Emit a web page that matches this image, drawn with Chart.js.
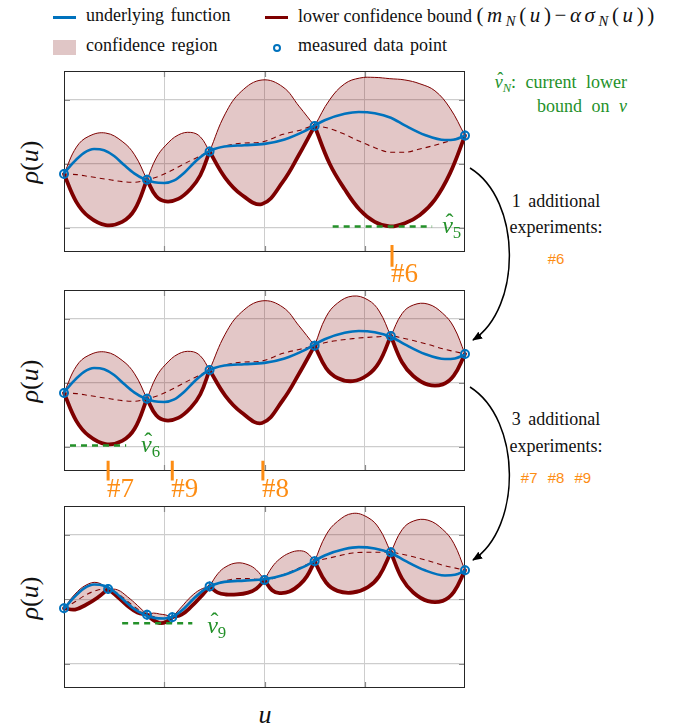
<!DOCTYPE html>
<html>
<head>
<meta charset="utf-8">
<script src="https://cdn.jsdelivr.net/npm/chart.js@4.4.1/dist/chart.umd.min.js"></script>
<style>
  html, body { margin: 0; padding: 0; background: #fff; }
  #page { position: relative; width: 677px; height: 725px; overflow: hidden;
          font-family: "Liberation Serif", "DejaVu Serif", "Times New Roman", Times, serif; color: #111; }
  canvas.panel { position: absolute; left: 0; top: 0; }
  .txt { position: absolute; white-space: nowrap; font-size: 18px; line-height: 18px; }
  .sb { font-size: 0.7em; position: relative; top: 0.3em; }
  .math { font-size: 21px; letter-spacing: 3.6px; }
  .hv { position: relative; display: inline-block; }
  .hat { position: absolute; left: 0.14em; top: -0.14em; font-style: normal; }
  .green { color: #24912a; }
  .orange { color: #fd8d14; }
  .big { font-size: 27px; line-height: 27px; }
  .nu { font-size: 24px; line-height: 24px; }
  .ylab { position: absolute; font-size: 26px; line-height: 26px; white-space: nowrap;
          transform: translate(-50%, -50%) rotate(-90deg); }
  .sans { font-family: "Liberation Sans", "DejaVu Sans", Arial, sans-serif; font-size: 15px; }
  .icon { position: absolute; }
  svg { position: absolute; left: 0; top: 0; }
</style>
</head>
<body>
<div id="page">
  <!-- legend -->
  <div class="icon" style="left:53px;top:16px;width:23px;height:2.5px;background:#0072bd"></div>
  <div class="txt" style="left:86px;top:6px;word-spacing:2px">underlying function</div>
  <div class="icon" style="left:265px;top:16px;width:23px;height:2.5px;background:#7e0000"></div>
  <div class="txt" style="left:298px;top:6px">lower confidence bound <span class="math">(<i>m</i><span class="sb"><i>N</i></span>(<i>u</i>)&minus;<i>ασ</i><span class="sb"><i>N</i></span>(<i>u</i>))</span></div>
  <div class="icon" style="left:53px;top:40px;width:23px;height:15px;background:#e0c6c6"></div>
  <div class="txt" style="left:86px;top:36px;word-spacing:2px">confidence region</div>
  <div class="icon" style="left:273px;top:44px;width:8px;height:8px;border:2px solid #0072bd;border-radius:50%;box-sizing:border-box"></div>
  <div class="txt" style="left:298px;top:36px;word-spacing:2px">measured data point</div>

  <!-- right side notes -->
  <div class="txt green" style="right:50px;top:73px;word-spacing:5px"><span class="hv"><i>ν</i><span class="hat">ˆ</span></span><span class="sb"><i>N</i></span>: current lower</div>
  <div class="txt green" style="right:50px;top:97px;word-spacing:5px">bound on <i>ν</i></div>
  <div class="txt" style="left:556px;top:192px;transform:translateX(-50%);word-spacing:3px">1 additional</div>
  <div class="txt" style="left:556px;top:218px;transform:translateX(-50%)">experiments:</div>
  <div class="txt orange sans" style="left:556px;top:250px;transform:translateX(-50%)">#6</div>
  <div class="txt" style="left:556px;top:410px;transform:translateX(-50%);word-spacing:3px">3 additional</div>
  <div class="txt" style="left:556px;top:437px;transform:translateX(-50%)">experiments:</div>
  <div class="txt orange sans" style="left:556px;top:469px;transform:translateX(-50%);word-spacing:6px">#7 #8 #9</div>

  <!-- axis labels -->
  <div class="ylab" style="left:30px;top:162px"><i>ρ</i>(<i>u</i>)</div>
  <div class="ylab" style="left:30px;top:381px"><i>ρ</i>(<i>u</i>)</div>
  <div class="ylab" style="left:30px;top:598px"><i>ρ</i>(<i>u</i>)</div>
  <div class="txt" style="left:265px;top:702px;font-size:26px;line-height:26px;transform:translateX(-50%)"><i>u</i></div>

  <canvas id="c1" class="panel" width="677" height="725"></canvas>
  <canvas id="c2" class="panel" width="677" height="725"></canvas>
  <canvas id="c3" class="panel" width="677" height="725"></canvas>

  <svg width="677" height="725">
    <defs>
      <marker id="ah" markerWidth="10" markerHeight="8" refX="9" refY="4" orient="auto" markerUnits="userSpaceOnUse">
        <path d="M0,0 L10,4 L0,8 Z" fill="#000"/>
      </marker>
    </defs>
    <path d="M 470 168 C 522 200, 522 308, 473 340" fill="none" stroke="#000" stroke-width="1.5" marker-end="url(#ah)"/>
    <path d="M 470 387 C 522 420, 522 528, 473 560" fill="none" stroke="#000" stroke-width="1.5" marker-end="url(#ah)"/>
  </svg>
</div>

<script>
// grid positions
const xGrid = [0.25, 0.5, 0.75];
const yGrid = [0, 1, 2];

// underlying (true) function, same in every panel
const uTrue = [0, 0.025, 0.05, 0.075, 0.1, 0.125, 0.15, 0.175, 0.2, 0.225, 0.25, 0.275, 0.3, 0.325, 0.35, 0.375,
               0.4, 0.45, 0.5, 0.55, 0.6, 0.65, 0.7, 0.735, 0.775, 0.815, 0.85, 0.9, 0.95, 0.975, 1.0];
const fTrue = [0.85, 1.03, 1.17, 1.23, 1.21, 1.12, 0.98, 0.85, 0.76, 0.71, 0.70, 0.74, 0.86, 1.02, 1.15, 1.23,
               1.27, 1.29, 1.31, 1.38, 1.51, 1.68, 1.78, 1.81, 1.79, 1.72, 1.60, 1.45, 1.37, 1.38, 1.44];

// panel 1 (5 data points)
const u1 = [0, 0.031, 0.062, 0.104, 0.145, 0.176, 0.207, 0.230, 0.254, 0.285, 0.316, 0.340, 0.363, 0.402, 0.442,
            0.494, 0.546, 0.586, 0.625, 0.6625, 0.70, 0.7375, 0.775, 0.8125, 0.85, 0.8875, 0.925, 0.9625, 1.0];
const mean1 = [0.84, 0.83, 0.80, 0.76, 0.72, 0.71, 0.75, 0.79, 0.85, 0.95, 1.05, 1.12, 1.19, 1.28, 1.32,
               1.34, 1.46, 1.52, 1.59, 1.55, 1.46, 1.35, 1.25, 1.18, 1.18, 1.23, 1.29, 1.36, 1.44];
const upper1 = [0.84, 1.26, 1.43, 1.48, 1.35, 1.14, 0.75, 1.09, 1.29, 1.45, 1.49, 1.42, 1.19, 1.78, 2.13,
                2.31, 2.20, 1.90, 1.59, 2.00, 2.25, 2.34, 2.35, 2.33, 2.31, 2.25, 2.14, 1.87, 1.44];
const lower1 = [0.84, 0.40, 0.17, 0.04, 0.09, 0.28, 0.75, 0.49, 0.41, 0.45, 0.61, 0.82, 1.19, 0.78, 0.52,
                0.37, 0.72, 1.14, 1.59, 1.00, 0.60, 0.28, 0.09, 0.02, 0.07, 0.20, 0.44, 0.85, 1.44];
const ptU1 = [0, 0.207, 0.363, 0.625, 1.0];
const ptV1 = [0.84, 0.75, 1.19, 1.59, 1.44];
const nuU1 = [0.67, 0.918];
const nu1 = 0.02;
const nextU1 = [0.818];
const nextLbl1 = ['#6'];

// panel 2 (6 data points)
const u2 = [0, 0.031, 0.062, 0.104, 0.145, 0.176, 0.207, 0.230, 0.254, 0.285, 0.316, 0.340, 0.363, 0.402, 0.442,
            0.494, 0.546, 0.586, 0.625, 0.6535, 0.682, 0.72, 0.758, 0.786, 0.815, 0.843, 0.871, 0.9075, 0.9445, 0.972, 1.0];
const mean2 = [0.84, 0.83, 0.80, 0.76, 0.72, 0.71, 0.75, 0.79, 0.85, 0.95, 1.05, 1.12, 1.20, 1.28, 1.32,
               1.34, 1.46, 1.52, 1.58, 1.63, 1.66, 1.69, 1.71, 1.72, 1.73, 1.70, 1.66, 1.60, 1.53, 1.49, 1.45];
const upper2 = [0.84, 1.26, 1.43, 1.48, 1.35, 1.14, 0.75, 1.09, 1.29, 1.45, 1.49, 1.42, 1.20, 1.76, 2.10,
                2.28, 2.18, 1.89, 1.58, 2.03, 2.245, 2.355, 2.295, 2.12, 1.73, 2.08, 2.215, 2.23, 2.085, 1.87, 1.45];
const lower2 = [0.84, 0.40, 0.17, 0.04, 0.09, 0.28, 0.75, 0.49, 0.41, 0.45, 0.61, 0.82, 1.20, 0.80, 0.54,
                0.37, 0.73, 1.14, 1.58, 1.23, 1.075, 1.025, 1.125, 1.32, 1.73, 1.32, 1.105, 0.97, 0.975, 1.11, 1.45];
const ptU2 = [0, 0.207, 0.363, 0.625, 0.815, 1.0];
const ptV2 = [0.84, 0.75, 1.20, 1.58, 1.73, 1.45];
const nuU2 = [0.015, 0.155];
const nu2 = 0.02;
const nextU2 = [0.11, 0.27, 0.496];
const nextLbl2 = ['#7', '#9', '#8'];

// panel 3 (9 data points)
const u3 = [0, 0.0275, 0.055, 0.0825, 0.11, 0.134, 0.158, 0.183, 0.207, 0.223, 0.2385, 0.254, 0.27, 0.293, 0.3165,
            0.34, 0.363, 0.3836, 0.404, 0.4315, 0.459, 0.4795, 0.5, 0.519, 0.5375, 0.5625, 0.5875, 0.606, 0.625,
            0.6535, 0.682, 0.72, 0.758, 0.786, 0.815, 0.843, 0.871, 0.9075, 0.9445, 0.972, 1.0];
const mean3 = [0.86, 0.96, 1.07, 1.14, 1.16, 1.09, 0.97, 0.85, 0.76, 0.73, 0.70, 0.70, 0.72, 0.82, 0.96,
               1.09, 1.20, 1.25, 1.29, 1.32, 1.32, 1.31, 1.30, 1.32, 1.36, 1.42, 1.49, 1.54, 1.59,
               1.63, 1.67, 1.72, 1.73, 1.73, 1.73, 1.70, 1.66, 1.60, 1.53, 1.49, 1.45];
const upper3 = [0.86, 1.08, 1.22, 1.26, 1.16, 1.145, 1.04, 0.905, 0.76, 0.785, 0.77, 0.755, 0.72, 0.88, 1.04,
                1.15, 1.20, 1.397, 1.506, 1.565, 1.536, 1.457, 1.30, 1.50, 1.624, 1.72, 1.754, 1.72, 1.59,
                2.00, 2.21, 2.335, 2.27, 2.10, 1.73, 2.08, 2.215, 2.23, 2.085, 1.87, 1.45];
const lower3 = [0.86, 0.84, 0.915, 1.02, 1.16, 1.035, 0.90, 0.795, 0.76, 0.675, 0.63, 0.645, 0.72, 0.76, 0.88,
                1.03, 1.20, 1.103, 1.074, 1.075, 1.104, 1.163, 1.30, 1.14, 1.096, 1.12, 1.226, 1.36, 1.59,
                1.26, 1.13, 1.105, 1.19, 1.36, 1.73, 1.32, 1.105, 0.97, 0.975, 1.11, 1.45];
const ptU3 = [0, 0.11, 0.207, 0.27, 0.363, 0.5, 0.625, 0.815, 1.0];
const ptV3 = [0.86, 1.16, 0.76, 0.72, 1.20, 1.30, 1.59, 1.73, 1.45];
const nuU3 = [0.145, 0.32];
const nu3 = 0.625;

const BLUE = '#0072bd', RED = '#7e0000', GREEN = '#24912a', ORANGE = '#fd8d14';

const panels = [
    { id: 'c1', top: 71, bottom: 252, u: u1, mean: mean1, upper: upper1, lower: lower1, ptU: ptU1, ptV: ptV1,
      nuU: nuU1, nu: nu1, nuSub: '5', nuAt: [0.943, -0.09], nextU: nextU1, nextLbl: nextLbl1, tick: [-0.27, -0.61], lblV: -0.86 },
    { id: 'c2', top: 290, bottom: 471, u: u2, mean: mean2, upper: upper2, lower: lower2, ptU: ptU2, ptV: ptV2,
      nuU: nuU2, nu: nu2, nuSub: '6', nuAt: [0.192, -0.09], nextU: nextU2, nextLbl: nextLbl2, tick: [-0.22, -0.53], lblV: -0.80 },
    { id: 'c3', top: 506, bottom: 688, u: u3, mean: mean3, upper: upper3, lower: lower3, ptU: ptU3, ptV: ptV3,
      nuU: nuU3, nu: nu3, nuSub: '9', nuAt: [0.357, 0.48], nextU: [], nextLbl: [], tick: [0, 0], lblV: 0 }
];

const xy = (us, vs) => us.map((u, i) => ({ x: u, y: vs[i] }));

// plot frame + small inner tick marks, drawn under the data
const framePlugin = {
    id: 'frame',
    beforeDatasetsDraw(chart) {
        const a = chart.chartArea, ctx = chart.ctx;
        const sx = chart.scales.x, sy = chart.scales.y;
        ctx.save();
        ctx.strokeStyle = '#8a8a8a';
        ctx.lineWidth = 1.2;
        ctx.beginPath();
        xGrid.forEach(v => {
            const px = Math.round(sx.getPixelForValue(v)) + 0.5;
            ctx.moveTo(px, a.top); ctx.lineTo(px, a.top + 6);
            ctx.moveTo(px, a.bottom); ctx.lineTo(px, a.bottom - 6);
        });
        yGrid.forEach(v => {
            const py = Math.round(sy.getPixelForValue(v)) + 0.5;
            ctx.moveTo(a.left, py); ctx.lineTo(a.left + 6, py);
            ctx.moveTo(a.right, py); ctx.lineTo(a.right - 6, py);
        });
        ctx.stroke();
        ctx.strokeStyle = '#262626';
        ctx.lineWidth = 1;
        ctx.strokeRect(a.left + 0.5, a.top + 0.5, a.right - a.left - 1, a.bottom - a.top - 1);
        ctx.restore();
    }
};

function addLabel(html, cls, left, baseline, fs) {
    const el = document.createElement('div');
    el.className = 'txt ' + cls;
    el.innerHTML = html;
    el.style.left = left + 'px';
    el.style.top = (baseline - 0.84 * fs) + 'px';
    document.getElementById('page').appendChild(el);
}

panels.forEach(p => {
    const datasets = [
        { data: xy(p.ptU, p.ptV), showLine: false, pointRadius: 4, pointBorderWidth: 2,
          pointBorderColor: BLUE, pointBackgroundColor: 'rgba(255,255,255,0)', order: 0, clip: false },
        { data: xy(p.ptU, p.ptV), showLine: false, pointStyle: 'line', pointRotation: 90, pointRadius: 5,
          pointBorderWidth: 1.5, pointBorderColor: BLUE, order: 0, clip: false },
        { data: xy(uTrue, fTrue), borderColor: BLUE, borderWidth: 2.6, pointRadius: 0,
          cubicInterpolationMode: 'monotone', order: 1, clip: false },
        { data: p.nuU.map(u => ({ x: u, y: p.nu })), borderColor: GREEN, borderWidth: 2.5,
          borderDash: [6, 5], pointRadius: 0, order: 2 },
        { data: xy(p.u, p.mean), borderColor: RED, borderWidth: 1.1, borderDash: [5, 4], pointRadius: 0,
          cubicInterpolationMode: 'monotone', order: 4 }
    ];
    // confidence band: one piece per gap between measured points, so the bounds meet in a sharp point
    const idx = p.ptU.map(u => p.u.indexOf(u));
    for (let k = 0; k < idx.length - 1; k++) {
        const us = p.u.slice(idx[k], idx[k + 1] + 1);
        datasets.push({ data: xy(us, p.lower.slice(idx[k], idx[k + 1] + 1)), borderColor: RED, borderWidth: 3.8,
            pointRadius: 0, tension: 0.4, order: 3, clip: false, borderCapStyle: 'round' });
        datasets.push({ data: xy(us, p.upper.slice(idx[k], idx[k + 1] + 1)), borderColor: RED, borderWidth: 1,
            pointRadius: 0, tension: 0.4, fill: '-1', backgroundColor: 'rgba(128,0,0,0.22)', order: 5 });
    }
    p.nextU.forEach(u => datasets.push({
        data: [{ x: u, y: p.tick[0] }, { x: u, y: p.tick[1] }], borderColor: ORANGE, borderWidth: 3,
        pointRadius: 0, clip: false, order: 0
    }));

    const chart = new Chart(document.getElementById(p.id), {
        type: 'line',
        data: { datasets },
        options: {
            responsive: false,
            animation: false,
            devicePixelRatio: 1,
            layout: { padding: { left: 64, right: 677 - 465, top: p.top, bottom: 725 - p.bottom } },
            plugins: { legend: { display: false }, tooltip: { enabled: false } },
            scales: {
                x: {
                    type: 'linear', min: 0, max: 1,
                    grid: { color: '#cdcdcd', lineWidth: 1, drawTicks: false },
                    border: { display: false },
                    ticks: { display: false },
                    afterBuildTicks: s => { s.ticks = xGrid.map(v => ({ value: v })); },
                    afterFit: s => { s.height = 0; }
                },
                y: {
                    type: 'linear', min: -0.38, max: 2.45,
                    grid: { color: '#cdcdcd', lineWidth: 1.2, drawTicks: false },
                    border: { display: false },
                    ticks: { display: false },
                    afterBuildTicks: s => { s.ticks = yGrid.map(v => ({ value: v })); },
                    afterFit: s => { s.width = 0; }
                }
            }
        },
        plugins: [framePlugin]
    });

    const sx = chart.scales.x, sy = chart.scales.y;
    addLabel('<span class="hv"><i>ν</i><span class="hat">ˆ</span></span><span class="sb">' + p.nuSub + '</span>',
             'green nu', sx.getPixelForValue(p.nuAt[0]), sy.getPixelForValue(p.nuAt[1]), 24);
    p.nextU.forEach((u, i) => {
        addLabel(p.nextLbl[i], 'orange big', sx.getPixelForValue(u) - 1, sy.getPixelForValue(p.lblV), 27);
    });
});
</script>
</body>
</html>
